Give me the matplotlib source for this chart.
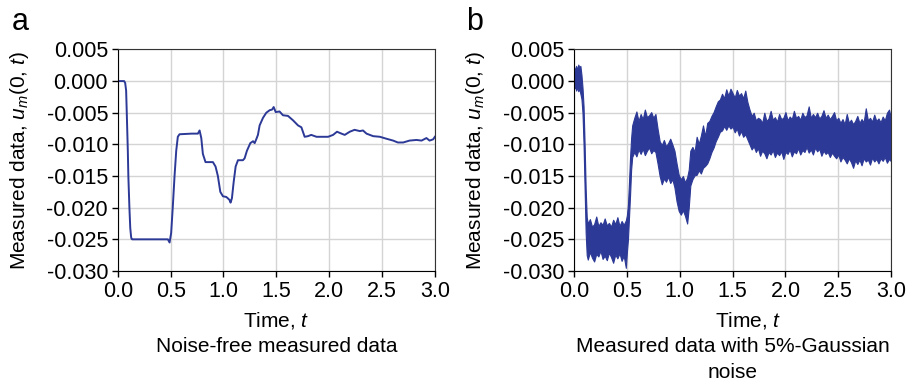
import matplotlib
matplotlib.use("Agg")
import matplotlib.pyplot as plt

plt.rcParams["font.family"] = ["Liberation Sans", "DejaVu Sans"]
plt.rcParams["mathtext.fontset"] = "custom"
plt.rcParams["mathtext.rm"] = "Liberation Sans"
plt.rcParams["mathtext.it"] = "Liberation Sans:italic"

# %%
# Noise-free measured data (panel a)
t_clean = [0.000, 0.060, 0.070, 0.079, 0.085, 0.095, 0.100, 0.110, 0.118, 0.126,
           0.130, 0.136, 0.300, 0.474, 0.490, 0.505, 0.520, 0.537, 0.553, 0.568,
           0.584, 0.700, 0.758, 0.774, 0.790, 0.805, 0.830, 0.900, 0.925, 0.947,
           0.970, 0.995, 1.026, 1.040, 1.058, 1.067, 1.080, 1.096, 1.115, 1.137,
           1.184, 1.200, 1.222, 1.254, 1.280, 1.295, 1.310, 1.326, 1.342, 1.374,
           1.405, 1.437, 1.460, 1.475, 1.494, 1.530, 1.563, 1.610, 1.658, 1.705,
           1.737, 1.768, 1.800, 1.830, 1.880, 1.990, 2.037, 2.074, 2.116, 2.147,
           2.195, 2.240, 2.290, 2.320, 2.353, 2.416, 2.480, 2.540, 2.605, 2.650,
           2.700, 2.760, 2.826, 2.874, 2.920, 2.950, 2.984, 3.000]
u_clean = [0.0000, 0.0000, -0.0003, -0.0015, -0.0050, -0.0110, -0.0150, -0.0200, -0.0232, -0.0246,
           -0.0249, -0.0250, -0.0250, -0.0250, -0.0255, -0.0240, -0.0200, -0.0150, -0.0110, -0.0088,
           -0.0084, -0.0083, -0.0083, -0.0078, -0.0090, -0.0115, -0.0128, -0.0128, -0.0135, -0.0150,
           -0.0175, -0.0182, -0.0183, -0.0185, -0.0188, -0.0192, -0.0185, -0.0160, -0.0135, -0.0125,
           -0.0125, -0.0122, -0.0110, -0.0098, -0.0095, -0.0098, -0.0092, -0.0085, -0.0070, -0.0058,
           -0.0050, -0.0046, -0.0045, -0.0041, -0.0049, -0.0048, -0.0054, -0.0055, -0.0062, -0.0070,
           -0.0073, -0.0088, -0.0087, -0.0085, -0.0088, -0.0088, -0.0085, -0.0080, -0.0083, -0.0085,
           -0.0080, -0.0077, -0.0079, -0.0078, -0.0083, -0.0087, -0.0088, -0.0091, -0.0094, -0.0097,
           -0.0097, -0.0094, -0.0093, -0.0094, -0.0090, -0.0094, -0.0092, -0.0088]

# %%
# Envelope of the data with 5%-Gaussian noise (panel b)
t_noisy = [0.000, 0.010, 0.020, 0.030, 0.040, 0.050, 0.060, 0.070, 0.080, 0.090,
           0.100, 0.110, 0.120, 0.130, 0.150, 0.170, 0.190, 0.210, 0.230, 0.250,
           0.270, 0.290, 0.310, 0.330, 0.350, 0.370, 0.390, 0.410, 0.430, 0.450,
           0.470, 0.490, 0.500, 0.510, 0.520, 0.530, 0.540, 0.550, 0.570, 0.590,
           0.610, 0.630, 0.650, 0.670, 0.690, 0.710, 0.730, 0.750, 0.770, 0.790,
           0.810, 0.830, 0.850, 0.870, 0.890, 0.910, 0.930, 0.950, 0.970, 0.990,
           1.010, 1.030, 1.050, 1.070, 1.085, 1.100, 1.120, 1.140, 1.160, 1.180,
           1.200, 1.220, 1.240, 1.260, 1.280, 1.300, 1.320, 1.340, 1.360, 1.380,
           1.400, 1.420, 1.440, 1.460, 1.480, 1.500, 1.520, 1.540, 1.560, 1.580,
           1.600, 1.620, 1.640, 1.660, 1.680, 1.700, 1.720, 1.740, 1.760, 1.780,
           1.800, 1.820, 1.840, 1.860, 1.880, 1.900, 1.920, 1.940, 1.960, 1.980,
           2.000, 2.020, 2.040, 2.060, 2.080, 2.100, 2.120, 2.140, 2.160, 2.180,
           2.200, 2.220, 2.240, 2.260, 2.280, 2.300, 2.320, 2.340, 2.360, 2.380,
           2.400, 2.420, 2.440, 2.460, 2.480, 2.500, 2.520, 2.540, 2.560, 2.580,
           2.600, 2.620, 2.640, 2.660, 2.680, 2.700, 2.720, 2.740, 2.760, 2.780,
           2.800, 2.820, 2.840, 2.860, 2.880, 2.900, 2.920, 2.940, 2.960, 2.980,
           3.000]
u_upper = [0.0012, 0.0020, 0.0024, 0.0018, 0.0026, 0.0022, 0.0024, 0.0010, -0.0010, -0.0040,
           -0.0100, -0.0170, -0.0215, -0.0225, -0.0218, -0.0230, -0.0226, -0.0214, -0.0229, -0.0223,
           -0.0227, -0.0217, -0.0228, -0.0224, -0.0230, -0.0219, -0.0226, -0.0215, -0.0229, -0.0221,
           -0.0227, -0.0220, -0.0212, -0.0195, -0.0160, -0.0120, -0.0090, -0.0070, -0.0058, -0.0048,
           -0.0063, -0.0052, -0.0060, -0.0045, -0.0057, -0.0054, -0.0049, -0.0058, -0.0052, -0.0075,
           -0.0095, -0.0101, -0.0093, -0.0103, -0.0098, -0.0091, -0.0100, -0.0110, -0.0130, -0.0148,
           -0.0155, -0.0150, -0.0160, -0.0152, -0.0140, -0.0110, -0.0104, -0.0112, -0.0088, -0.0099,
           -0.0086, -0.0070, -0.0087, -0.0066, -0.0063, -0.0055, -0.0049, -0.0040, -0.0032, -0.0029,
           -0.0020, -0.0027, -0.0013, -0.0023, -0.0012, -0.0019, -0.0026, -0.0014, -0.0023, -0.0019,
           -0.0027, -0.0015, -0.0033, -0.0045, -0.0055, -0.0050, -0.0062, -0.0058, -0.0060, -0.0066,
           -0.0050, -0.0063, -0.0059, -0.0047, -0.0061, -0.0057, -0.0064, -0.0052, -0.0060, -0.0058,
           -0.0049, -0.0062, -0.0056, -0.0060, -0.0047, -0.0058, -0.0055, -0.0061, -0.0050, -0.0057,
           -0.0054, -0.0040, -0.0058, -0.0052, -0.0057, -0.0050, -0.0059, -0.0055, -0.0046, -0.0058,
           -0.0053, -0.0060, -0.0055, -0.0049, -0.0062, -0.0058, -0.0066, -0.0060, -0.0068, -0.0052,
           -0.0066, -0.0061, -0.0068, -0.0063, -0.0055, -0.0066, -0.0060, -0.0065, -0.0043, -0.0062,
           -0.0058, -0.0064, -0.0053, -0.0063, -0.0059, -0.0065, -0.0056, -0.0062, -0.0050, -0.0045,
           -0.0060]
u_lower = [-0.0012, -0.0008, -0.0015, -0.0010, -0.0016, -0.0012, -0.0020, -0.0028, -0.0050, -0.0100,
           -0.0170, -0.0240, -0.0275, -0.0282, -0.0270, -0.0279, -0.0285, -0.0273, -0.0277, -0.0268,
           -0.0281, -0.0276, -0.0283, -0.0271, -0.0278, -0.0287, -0.0274, -0.0280, -0.0272, -0.0284,
           -0.0276, -0.0295, -0.0270, -0.0250, -0.0215, -0.0180, -0.0140, -0.0120, -0.0112, -0.0119,
           -0.0108, -0.0115, -0.0107, -0.0117, -0.0110, -0.0105, -0.0114, -0.0109, -0.0112, -0.0130,
           -0.0150, -0.0163, -0.0154, -0.0159, -0.0151, -0.0161, -0.0155, -0.0168, -0.0190, -0.0205,
           -0.0211, -0.0204, -0.0213, -0.0225, -0.0200, -0.0165, -0.0155, -0.0149, -0.0148, -0.0141,
           -0.0146, -0.0137, -0.0134, -0.0130, -0.0122, -0.0112, -0.0105, -0.0095, -0.0088, -0.0080,
           -0.0078, -0.0071, -0.0077, -0.0070, -0.0075, -0.0072, -0.0081, -0.0075, -0.0086, -0.0079,
           -0.0088, -0.0084, -0.0092, -0.0100, -0.0108, -0.0103, -0.0112, -0.0106, -0.0118, -0.0110,
           -0.0114, -0.0122, -0.0112, -0.0116, -0.0109, -0.0120, -0.0113, -0.0117, -0.0111, -0.0123,
           -0.0112, -0.0115, -0.0108, -0.0119, -0.0111, -0.0114, -0.0106, -0.0116, -0.0109, -0.0112,
           -0.0104, -0.0113, -0.0108, -0.0116, -0.0105, -0.0111, -0.0107, -0.0118, -0.0110, -0.0115,
           -0.0112, -0.0120, -0.0113, -0.0118, -0.0122, -0.0116, -0.0127, -0.0120, -0.0124, -0.0130,
           -0.0122, -0.0128, -0.0137, -0.0125, -0.0131, -0.0124, -0.0133, -0.0122, -0.0127, -0.0124,
           -0.0132, -0.0121, -0.0127, -0.0123, -0.0130, -0.0122, -0.0126, -0.0120, -0.0129, -0.0123,
           -0.0127]

y_ticks = [0.005, 0.000, -0.005, -0.010, -0.015, -0.020, -0.025, -0.030]
y_ticklabels = ["0.005", "0.000", "-0.005", "-0.010", "-0.015", "-0.020", "-0.025", "-0.030"]
x_ticks = [0.0, 0.5, 1.0, 1.5, 2.0, 2.5, 3.0]
x_ticklabels = ["0.0", "0.5", "1.0", "1.5", "2.0", "2.5", "3.0"]

line_color = "#2c3996"
fs_tick = 15.5
fs = 15

fig = plt.figure(figsize=(9.06, 3.82), dpi=100)
ax_a = fig.add_axes([0.130, 0.2906, 0.350, 0.580])
ax_b = fig.add_axes([0.6336, 0.2906, 0.350, 0.580])

ax_a.plot(t_clean, u_clean, color=line_color, lw=1.4)
ax_b.fill_between(t_noisy, u_lower, u_upper, color=line_color, lw=0.8,
                  edgecolor=line_color)

for ax in (ax_a, ax_b):
    ax.set_xlim(0, 3)
    ax.set_ylim(-0.030, 0.005)
    ax.set_xticks(x_ticks)
    ax.set_xticklabels(x_ticklabels, fontsize=fs_tick)
    ax.set_yticks(y_ticks)
    ax.set_yticklabels(y_ticklabels, fontsize=fs_tick)
    ax.grid(True, color="#d4d4d4", lw=1.0)
    ax.set_axisbelow(True)
    ax.tick_params(direction="out", length=4, width=1, pad=3,
                   top=False, right=False)
    for side in ("top", "right"):
        ax.spines[side].set_color("#333333")
    for side in ("left", "bottom"):
        ax.spines[side].set_color("black")
    ax.set_ylabel(r"Measured data, $u_m$(0, $t$)", fontsize=fs)
    ax.set_xlabel(r"Time, $t$", fontsize=fs)
    ax.xaxis.label.set_va("center")
    ax.yaxis.label.set_va("center")

ax_a.yaxis.set_label_coords(-0.309, 0.5)
ax_b.yaxis.set_label_coords(-0.312, 0.5)
ax_a.xaxis.set_label_coords(0.5, -0.2255)
ax_b.xaxis.set_label_coords(0.549, -0.2255)

# Subtitles under each panel
ax_a.text(0.5, -0.343, "Noise-free measured data", transform=ax_a.transAxes,
          ha="center", va="center", fontsize=fs)
ax_b.text(0.5, -0.343, "Measured data with 5%-Gaussian", transform=ax_b.transAxes,
          ha="center", va="center", fontsize=fs)
ax_b.text(0.5, -0.456, "noise", transform=ax_b.transAxes,
          ha="center", va="center", fontsize=fs)

fig.text(12 / 906, 1 - 22 / 382, "a", fontsize=22, ha="left", va="center")
fig.text(466 / 906, 1 - 22 / 382, "b", fontsize=22, ha="left", va="center")

fig.savefig("out.png", dpi=100)
